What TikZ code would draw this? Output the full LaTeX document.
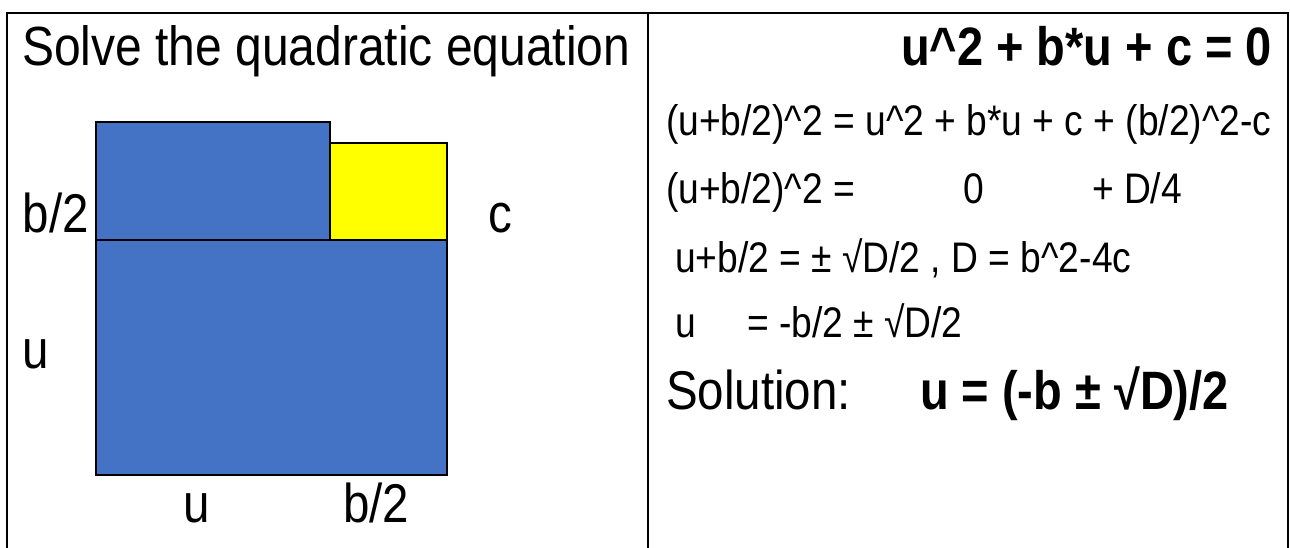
\documentclass[tikz,border=0pt]{standalone}
\usepackage{fontspec}
\setmainfont{Liberation Sans}
\definecolor{blk}{HTML}{4472C4}
\definecolor{ylw}{HTML}{FFFF00}
\newcommand{\tall}[1]{\scalebox{1}[1.15]{#1}}
\tikzset{
  txt/.style={inner sep=0pt, outer sep=0pt, anchor=base west},
  big/.style={font=\fontsize{47.5}{52}\selectfont},
  ttl/.style={font=\fontsize{48}{52}\selectfont},
  small/.style={font=\fontsize{37.2}{42}\selectfont},
  bigb/.style={font=\fontsize{47}{52}\selectfont\bfseries},
  areabox/.style={draw=black, line width=2pt},
  frame/.style={line width=2pt, draw=black}
}
\begin{document}
\begin{tikzpicture}[x=1pt,y=-1pt]
\useasboundingbox (0,0) rectangle (1290,548);
% frame
\coordinate (fbl) at (7,548);
\coordinate (ftl) at (7,13);
\coordinate (ftr) at (1288,13);
\coordinate (fbr) at (1288,548);
\coordinate (dt) at (648,13);
\coordinate (db) at (648,548);
\draw[frame] (fbl) -- (ftl) -- (ftr) -- (fbr);
\draw[frame] (dt) -- (db);
% areas
\draw[areabox, fill=blk] (96,240) rectangle (447,475);
\draw[areabox, fill=blk] (96,122) rectangle (330,240);
\draw[areabox, fill=ylw] (330,143) rectangle (447,240);
% left texts
\node[txt, ttl] (title) at (22,66) {\tall{Solve the quadratic equation}};
\node[txt, big] (lb2) at (23,233) {\tall{b/2}};
\node[txt, big] (lc) at (488,233) {\tall{c}};
\node[txt, big] (lu) at (23,368) {\tall{u}};
\node[txt, big] (bu) at (183,522) {\tall{u}};
\node[txt, big] (bb2) at (343,522) {\tall{b/2}};
% right texts
\node[txt, bigb, anchor=base east] (eq) at (1272,66) {\tall{u\^{}2 + b*u + c = 0}};
\node[txt, small] (l1) at (666,136) {\tall{(u+b/2)\^{}2 = u\^{}2 + b*u + c + (b/2)\^{}2-c}};
\node[txt, small] (l2a) at (666,204) {\tall{(u+b/2)\^{}2 =}};
\node[txt, small] (l2b) at (963,204) {\tall{0}};
\node[txt, small] (l2c) at (1092,204) {\tall{+ D/4}};
\node[txt, small] (l3) at (675,272) {\tall{u+b/2 = ± √D/2 , D = b\^{}2-4c}};
\node[txt, small] (l4a) at (675,337) {\tall{u}};
\node[txt, small] (l4b) at (747,337) {\tall{= -b/2 ± √D/2}};
\node[txt, big] (sol) at (666,409) {\tall{Solution:}};
\node[txt, bigb] (solu) at (920,409) {\tall{u = (-b ± √D)/2}};
\end{tikzpicture}
\end{document}
